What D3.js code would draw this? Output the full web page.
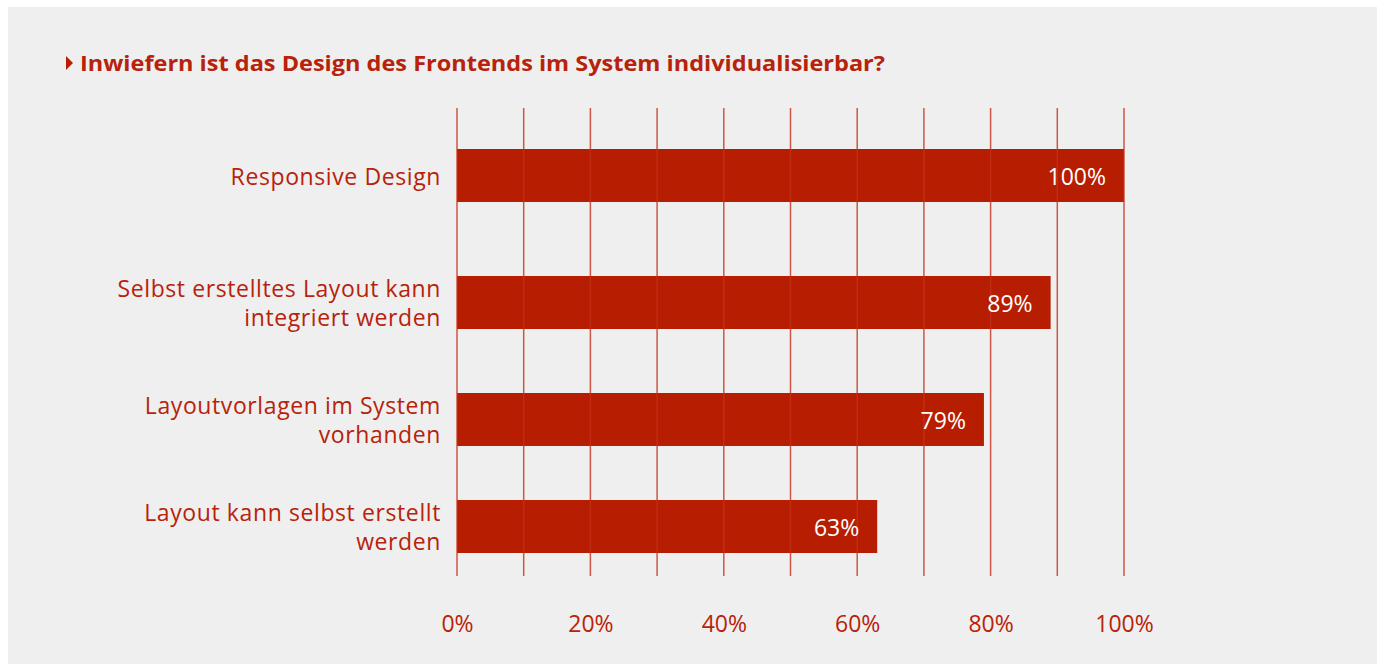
<!DOCTYPE html>
<html>
<head>
<meta charset="utf-8">
<script src="https://cdn.jsdelivr.net/npm/d3@7"></script>
<style>
	html, body { margin: 0; padding: 0; background: #ffffff; }
	svg { display: block; }
</style>
</head>
<body>
<script>
// chart data
var categories = [
	['Responsive Design'],
	['Selbst erstelltes Layout kann', 'integriert werden'],
	['Layoutvorlagen im System', 'vorhanden'],
	['Layout kann selbst erstellt', 'werden']
];
var values = [100, 89, 79, 63];
var tickValues = [0, 20, 40, 60, 80, 100];
var title = 'Inwiefern ist das Design des Frontends im System individualisierbar?';

var W = 1377, H = 664;
var red = '#b71d00',
	textRed = '#b8220a',
	bg = '#efefef';
var font = '"Open Sans", "Liberation Sans", Arial, sans-serif';

var svg = d3.select('body').append('svg')
	.attr('width', W)
	.attr('height', H);

// panel
svg.append('rect')
	.attr('x', 8).attr('y', 7)
	.attr('width', W - 8).attr('height', H - 7)
	.attr('fill', bg);

// title with small triangle
svg.append('path')
	.attr('d', 'M66,56 L73,63 L66,70 Z')
	.attr('fill', red);
svg.append('text')
	.attr('x', 80).attr('y', 71)
	.attr('font-family', font)
	.attr('font-weight', 'bold')
	.attr('font-size', 22)
	.attr('fill', textRed)
	.attr('textLength', 805)
	.attr('lengthAdjust', 'spacingAndGlyphs')
	.text(title);

var x = d3.scaleLinear()
	.domain([0, 100])
	.range([457, 1124]);

// bar tops: rows are not evenly spaced in the original
var y = d3.scaleLinear()
	.domain([0, 1, 2, 3])
	.range([149, 276, 393, 500]);
var barH = 53;

var g = svg.append('g');

// bars
g.selectAll('.bar')
	.data(values)
	.enter().append('rect')
	.attr('class', 'bar')
	.attr('x', x(0))
	.attr('y', function(d, i) { return y(i); })
	.attr('width', function(d) { return x(d) - x(0); })
	.attr('height', barH)
	.attr('fill', red);

// vertical grid lines every 10%
g.selectAll('.grid')
	.data(d3.range(0, 101, 10))
	.enter().append('line')
	.attr('class', 'grid')
	.attr('x1', function(d) { return x(d); })
	.attr('x2', function(d) { return x(d); })
	.attr('y1', 108)
	.attr('y2', 576)
	.attr('stroke', '#c5301a')
	.attr('stroke-opacity', 0.8)
	.attr('stroke-width', 1.5);

// value labels
g.selectAll('.val')
	.data(values)
	.enter().append('text')
	.attr('class', 'val')
	.attr('x', function(d) { return x(d) - 18; })
	.attr('y', function(d, i) { return y(i) + barH / 2 + 9; })
	.attr('text-anchor', 'end')
	.attr('font-family', font)
	.attr('font-size', 23)
	.attr('fill', '#ffffff')
	.text(function(d) { return d + '%'; });

// category labels
var lineH = 29;
g.selectAll('.cat')
	.data(categories)
	.enter().append('text')
	.attr('class', 'cat')
	.attr('text-anchor', 'end')
	.attr('font-family', font)
	.attr('font-size', 23)
	.attr('letter-spacing', 0.6)
	.attr('fill', textRed)
	.each(function(lines, i) {
		var cy = y(i) + barH / 2;
		var top = cy - (lines.length - 1) * lineH / 2 + 9;
		d3.select(this).selectAll('tspan')
			.data(lines)
			.enter().append('tspan')
			.attr('x', 441)
			.attr('y', function(d, j) { return top + j * lineH; })
			.text(function(d) { return d; });
	});

// x axis tick labels
var xAxis = d3.axisBottom(x)
	.tickValues(tickValues)
	.tickSize(0)
	.tickPadding(0)
	.tickFormat(function(d) { return d + '%'; });

var ax = svg.append('g')
	.attr('transform', 'translate(0,616)')
	.call(xAxis);
ax.select('.domain').remove();
ax.selectAll('text')
	.attr('font-family', font)
	.attr('font-size', 23)
	.attr('fill', textRed);
</script>
</body>
</html>
